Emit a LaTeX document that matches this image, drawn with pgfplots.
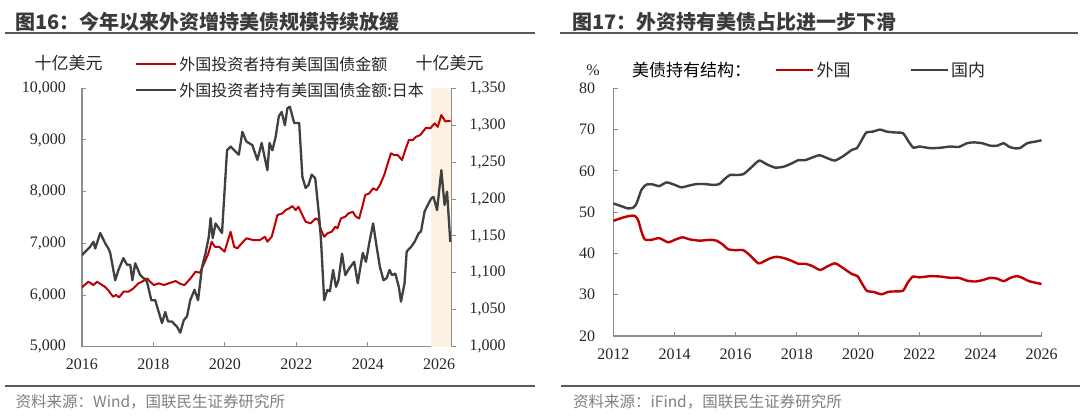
\documentclass[border=0pt]{standalone}
\usepackage{fontspec}
\setmainfont{Liberation Serif}
\newfontfamily\cjk{Noto Sans CJK SC}
\usepackage{pgfplots}
\usepackage{pgfplotstable}
\pgfplotsset{compat=1.18}
\definecolor{myred}{HTML}{C00000}
\definecolor{mygray}{HTML}{404040}
\definecolor{axgray}{HTML}{8C8C8C}
\definecolor{shadec}{HTML}{FDF1E4}
\definecolor{titlec}{HTML}{3A3A3A}
\definecolor{rulec}{HTML}{5A5A5A}
\definecolor{notec}{HTML}{808080}
\definecolor{txt}{HTML}{262626}

\pgfplotstableread{
x y
2016.00 6150
2016.18 6257
2016.32 6193
2016.42 6257
2016.64 6160
2016.73 6097
2016.87 5967
2016.95 6000
2017.04 5955
2017.16 6064
2017.30 6064
2017.44 6129
2017.58 6226
2017.68 6257
2017.82 6323
2017.91 6257
2018.01 6193
2018.15 6226
2018.29 6193
2018.43 6226
2018.62 6271
2018.76 6213
2018.87 6193
2019.04 6323
2019.18 6451
2019.30 6431
2019.42 6613
2019.54 6807
2019.63 7031
2019.72 6934
2019.84 6934
2019.99 6838
2020.16 7224
2020.26 6934
2020.35 6903
2020.51 7031
2020.60 7097
2020.79 7064
2020.98 7064
2021.12 7128
2021.19 7031
2021.31 7128
2021.40 7354
2021.47 7547
2021.61 7580
2021.70 7644
2021.80 7677
2021.89 7721
2021.98 7644
2022.06 7708
2022.17 7547
2022.26 7418
2022.40 7387
2022.54 7483
2022.62 7451
2022.69 7257
2022.78 7128
2022.87 7193
2022.99 7224
2023.09 7321
2023.15 7290
2023.25 7483
2023.37 7515
2023.46 7580
2023.58 7611
2023.67 7515
2023.76 7483
2023.86 7741
2023.93 7934
2024.04 7967
2024.15 8064
2024.25 8031
2024.34 8128
2024.46 8321
2024.56 8547
2024.65 8741
2024.74 8708
2024.84 8708
2024.96 8611
2025.05 8805
2025.15 8998
2025.26 8998
2025.35 9062
2025.47 9095
2025.54 9159
2025.63 9237
2025.75 9224
2025.87 9321
2025.96 9255
2026.06 9482
2026.17 9360
2026.32 9370
}\foreigntbl

\pgfplotstableread{
x y
2016.00 1124
2016.22 1135
2016.32 1142
2016.37 1133
2016.51 1154
2016.65 1140
2016.74 1133
2016.79 1127
2016.93 1090
2017.02 1104
2017.16 1120
2017.26 1111
2017.35 1111
2017.41 1090
2017.49 1113
2017.63 1097
2017.72 1093
2017.82 1088
2017.94 1063
2018.05 1063
2018.24 1032
2018.33 1047
2018.41 1034
2018.52 1034
2018.66 1027
2018.75 1019
2018.85 1036
2018.94 1041
2019.03 1063
2019.15 1077
2019.25 1063
2019.36 1108
2019.46 1127
2019.55 1149
2019.60 1174
2019.66 1147
2019.74 1167
2019.92 1154
2020.06 1266
2020.16 1271
2020.39 1260
2020.49 1291
2020.60 1278
2020.77 1273
2020.91 1253
2021.03 1276
2021.19 1239
2021.25 1276
2021.33 1266
2021.42 1284
2021.51 1312
2021.59 1318
2021.68 1300
2021.75 1323
2021.82 1325
2021.94 1303
2022.08 1303
2022.17 1230
2022.26 1215
2022.34 1219
2022.43 1233
2022.53 1228
2022.64 1176
2022.69 1145
2022.78 1063
2022.87 1077
2022.94 1075
2023.03 1104
2023.11 1081
2023.18 1090
2023.28 1126
2023.37 1097
2023.48 1106
2023.62 1115
2023.72 1086
2023.86 1127
2023.95 1115
2024.04 1140
2024.15 1167
2024.25 1135
2024.34 1108
2024.44 1090
2024.53 1093
2024.61 1104
2024.68 1097
2024.77 1099
2024.87 1081
2024.93 1061
2025.03 1086
2025.09 1129
2025.21 1135
2025.31 1142
2025.43 1154
2025.49 1156
2025.59 1183
2025.68 1192
2025.78 1201
2025.84 1203
2025.94 1185
2026.06 1239
2026.15 1192
2026.22 1210
2026.31 1142
}\japantbl

\pgfplotstableread{
x y
2012.00 52.1
2012.32 51.3
2012.48 50.9
2012.65 51.1
2012.76 52.1
2012.92 55.4
2013.09 56.7
2013.30 56.7
2013.50 56.3
2013.74 57.2
2014.01 56.6
2014.23 56.0
2014.45 56.4
2014.72 56.8
2014.99 56.8
2015.27 56.6
2015.46 56.8
2015.65 58.1
2015.81 59.0
2016.03 59.0
2016.25 59.2
2016.52 60.9
2016.77 62.5
2017.01 61.6
2017.29 60.8
2017.56 61.0
2017.83 61.8
2018.05 62.6
2018.27 62.6
2018.49 63.2
2018.74 63.8
2018.92 63.3
2019.09 62.8
2019.25 62.5
2019.52 63.6
2019.80 65.1
2019.96 65.5
2020.12 67.5
2020.27 69.3
2020.48 69.5
2020.72 70.0
2020.94 69.5
2021.21 69.3
2021.47 69.1
2021.65 67.1
2021.81 65.6
2022.00 65.9
2022.36 65.5
2022.69 65.6
2023.01 65.9
2023.29 65.8
2023.56 66.7
2023.78 66.9
2024.05 66.7
2024.32 66.1
2024.54 66.1
2024.76 66.7
2024.92 65.9
2025.09 65.5
2025.28 65.5
2025.53 66.7
2025.80 67.1
2026.00 67.4
}\domestictbl

\pgfplotstableread{
x y
2012.00 47.9
2012.32 48.7
2012.54 49.1
2012.70 49.1
2012.81 48.1
2012.92 45.3
2013.03 43.4
2013.25 43.3
2013.50 43.7
2013.79 42.7
2014.01 43.3
2014.26 43.9
2014.50 43.4
2014.83 43.1
2015.16 43.3
2015.37 43.1
2015.57 42.2
2015.76 41.0
2016.03 40.8
2016.25 40.8
2016.47 39.5
2016.74 37.6
2016.90 38.0
2017.12 38.8
2017.34 39.2
2017.61 38.8
2017.83 38.2
2018.05 37.5
2018.27 37.5
2018.49 37.0
2018.76 36.0
2018.98 36.8
2019.25 37.6
2019.52 36.4
2019.80 35.0
2019.98 34.5
2020.12 32.8
2020.29 30.9
2020.50 30.7
2020.76 30.1
2020.99 30.7
2021.21 30.8
2021.47 31.0
2021.62 32.9
2021.79 34.4
2022.00 34.2
2022.36 34.5
2022.69 34.4
2023.01 34.1
2023.29 34.1
2023.56 33.4
2023.83 33.2
2024.10 33.6
2024.32 34.1
2024.54 33.9
2024.76 33.3
2024.98 34.1
2025.20 34.5
2025.36 34.1
2025.58 33.3
2025.80 32.9
2026.00 32.6
}\sharetbl

\pgfplotsset{
  common/.style={
    scale only axis, anchor=south west,
    tick align=inside, major tick length=4.5pt,
    axis line style={axgray, line width=1.2pt},
    tick style={axgray, line width=1pt},
    scaled y ticks=false,
    /pgf/number format/assume math mode=true,
    /pgf/number format/1000 sep={,},
    tick label style={text=txt, font=\fontsize{16}{19}\selectfont},
    x tick label style={/pgf/number format/1000 sep={}, yshift=-9pt},
  }
}

\begin{document}
\begin{tikzpicture}
\path[use as bounding box, fill=white] (0pt,0pt) rectangle (1080pt,416pt);

% titles and rules
\node[anchor=west, inner sep=0pt, text=titlec, font=\fontsize{20}{24}\cjk\bfseries] at (15pt,394.3pt) {图16：今年以来外资增持美债规模持续放缓};
\node[anchor=west, inner sep=0pt, text=titlec, font=\fontsize{20}{24}\cjk\bfseries] at (572pt,394.3pt) {图17：外资持有美债占比进一步下滑};
\draw[rulec, line width=2pt] (5pt,382.7pt) -- (535pt,382.7pt);
\draw[rulec, line width=2pt] (560pt,382.7pt) -- (1078pt,382.7pt);
\draw[rulec, line width=2pt] (5pt,30pt) -- (535pt,30pt);
\draw[rulec, line width=2pt] (561pt,30pt) -- (1080pt,30pt);
\node[anchor=west, inner sep=0pt, text=notec, font=\fontsize{15.5}{18}\cjk] at (15.5pt,14.3pt) {资料来源：Wind，国联民生证券研究所};
\node[anchor=west, inner sep=0pt, text=notec, font=\fontsize{15.5}{18}\cjk] at (573pt,14.3pt) {资料来源：iFind，国联民生证券研究所};

% units
\node[inner sep=0pt, text=txt, font=\fontsize{17}{20}\cjk] at (68.5pt,352.7pt) {十亿美元};
\node[inner sep=0pt, text=txt, font=\fontsize{17}{20}\cjk] at (449.5pt,352.7pt) {十亿美元};
\node[inner sep=0pt, text=txt, font=\fontsize{16}{19}\selectfont] at (593pt,346pt) {\%};
\node[anchor=west, inner sep=0pt, text=black, font=\fontsize{17}{20}\cjk] at (632pt,346pt) {美债持有结构：};

% left chart, left axis
\begin{axis}[common,
  at={(82pt,69.3pt)}, width=369.7pt, height=258.4pt,
  xmin=2016, xmax=2026.35, ymin=5000, ymax=10000,
  axis x line*=bottom, axis y line*=left,
  xtick={2016,2018,...,2026}, ytick={5000,6000,...,10000},
  y tick label style={xshift=-12.7pt},
  legend image code/.code={\draw[#1] (0pt,0pt) -- (40pt,0pt);},
  legend style={at={(axis description cs:0.1434,1.124)}, anchor=north west,
    draw=none, fill=none, inner sep=0pt, row sep=11pt,
    font=\fontsize{16}{19}\cjk, text=txt,
    nodes={inner xsep=2pt, inner ysep=0pt}},
  legend cell align=left,
]
\addplot[fill=shadec, draw=none, forget plot] coordinates {(2025.78,5000) (2025.78,10000) (2026.35,10000) (2026.35,5000)} -- cycle;
\addplot[myred, line width=2pt, line join=round] table[x=x,y=y] {\foreigntbl};
\addlegendentry{外国投资者持有美国国债金额}
\addlegendimage{mygray, line width=2.2pt}
\addlegendentry{外国投资者持有美国国债金额:日本}
\end{axis}

% left chart, right axis
\begin{axis}[common,
  at={(82pt,69.3pt)}, width=369.7pt, height=258.4pt,
  xmin=2016, xmax=2026.35, ymin=1000, ymax=1350,
  axis y line*=right, axis x line=none,
  ytick={1000,1050,...,1350}, tick align=outside,
  y tick label style={xshift=10pt},
]
\addplot[mygray, line width=2.3pt, line join=round] table[x=x,y=y] {\japantbl};
\end{axis}

% right chart
\begin{axis}[common,
  at={(613.3pt,80pt)}, width=428.4pt, height=247.7pt,
  xmin=2012, xmax=2026, ymin=20, ymax=80,
  axis x line*=bottom, axis y line*=left,
  xtick={2012,2014,...,2026}, ytick={20,30,...,80},
  y tick label style={xshift=-14.7pt},
  legend columns=2,
  legend image code/.code={\draw[#1] (0pt,0pt) -- (37pt,0pt);},
  legend style={at={(axis description cs:0.3775,1.074)}, anchor=west,
    draw=none, fill=none, inner sep=0pt,
    font=\fontsize{17}{20}\cjk, text=txt,
    nodes={inner xsep=2pt, inner ysep=0pt},
    /tikz/every even column/.append style={column sep=57pt}},
]
\addplot[myred, line width=2.4pt, smooth, tension=0.4] table[x=x,y=y] {\sharetbl};
\addlegendentry{外国}
\addplot[mygray, line width=2.4pt, smooth, tension=0.4] table[x=x,y=y] {\domestictbl};
\addlegendentry{国内}
\end{axis}
\end{tikzpicture}
\end{document}
